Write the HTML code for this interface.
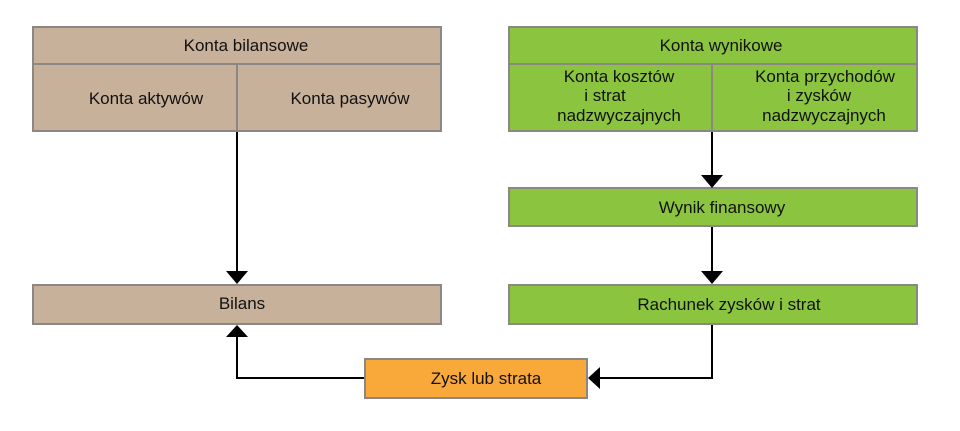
<!DOCTYPE html>
<html><head><meta charset="utf-8"><style>html,body{margin:0;padding:0;background:#fff}svg{display:block}</style></head><body>
<svg width="960" height="431" viewBox="0 0 960 431" xmlns="http://www.w3.org/2000/svg" font-family="Liberation Sans, sans-serif" font-size="17" fill="#111">
<g stroke="#8a8784" stroke-width="2">
<rect x="33" y="27" width="408" height="104" fill="#c8b19a"/>
<line x1="33" y1="64" x2="441" y2="64"/>
<line x1="237" y1="64" x2="237" y2="131"/>
<rect x="509" y="27" width="408" height="104" fill="#8bc53f"/>
<line x1="509" y1="64" x2="917" y2="64"/>
<line x1="712" y1="64" x2="712" y2="131"/>
<rect x="509" y="188" width="408" height="38" fill="#8bc53f"/>
<rect x="509" y="285" width="408" height="39" fill="#8bc53f"/>
<rect x="33" y="285" width="408" height="39" fill="#c8b19a"/>
<rect x="365" y="359" width="222" height="39" fill="#f9a93a"/>
</g>
<g stroke="#000" stroke-width="2" fill="none">
<line x1="237" y1="132" x2="237" y2="272"/>
<line x1="712" y1="132" x2="712" y2="176"/>
<line x1="712" y1="227" x2="712" y2="272"/>
<polyline points="712,325 712,378 600,378"/>
<polyline points="364,378 237,378 237,337"/>
</g>
<g fill="#000">
<polygon points="226,271 248,271 237,284"/>
<polygon points="701,175 723,175 712,188"/>
<polygon points="701,271 723,271 712,284"/>
<polygon points="600,367 600,389 588,378"/>
<polygon points="226,337 248,337 237,325"/>
</g>
<g text-anchor="middle">
<text x="246" y="51">Konta bilansowe</text>
<text x="146" y="104">Konta aktywów</text>
<text x="350" y="104">Konta pasywów</text>
<text x="721" y="51">Konta wynikowe</text>
<text x="619" y="82">Konta kosztów</text>
<text x="605" y="101">i strat</text>
<text x="619" y="121">nadzwyczajnych</text>
<text x="825" y="82">Konta przychodów</text>
<text x="819" y="101">i zysków</text>
<text x="824" y="121">nadzwyczajnych</text>
<text x="722" y="213">Wynik finansowy</text>
<text x="729" y="310">Rachunek zysków i strat</text>
<text x="242" y="309">Bilans</text>
<text x="486" y="384">Zysk lub strata</text>
</g>
</svg>
</body></html>
